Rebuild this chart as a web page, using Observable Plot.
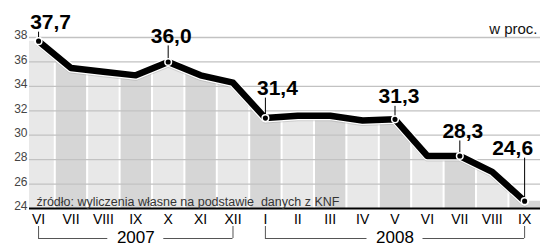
<!DOCTYPE html>
<html><head><meta charset="utf-8">
<script src="https://cdn.jsdelivr.net/npm/d3@7"></script>
<script src="https://cdn.jsdelivr.net/npm/@observablehq/plot@0.6"></script>
<style>
body{margin:0;background:#fff}
#chart{width:543px;height:246px}
svg{overflow:visible}
</style>
</head><body><div id="chart"></div>
<script>
const months = ["VI","VII","VIII","IX","X","XI","XII","I","II","III","IV","V","VI","VII","VIII","IX"];
const values = [37.7,35.5,35.2,34.9,36.0,34.9,34.3,31.4,31.6,31.6,31.2,31.3,28.3,28.3,27.0,24.6];
const labelled = [0,4,7,11,13,15];
const years = ["2007","2008"];
const yearStart = [0,7];
const yearEnd = [6,15];
const yTicks = [24,26,28,30,32,34,36,38];
const unit = "w proc.";
const source = "źródło: wyliczenia własne na podstawie  danych z KNF";

const data = values.map((v,i)=>({i, v, m: months[i]}));
const xMin = -0.28, xMax = 15.49;
const yMin = yTicks[0], yMax = yTicks[yTicks.length-1];
const bands = data.map(d=>({x1: Math.max(d.i-0.5,xMin), x2: Math.min(d.i+0.5,xMax), shade: d.i%2}));
const mask = [{i:xMin, v:values[0]}, ...data, {i:xMax, v:values[values.length-1]}];
const yearData = years.map((y,k)=>({label:y, from:yearStart[k], to:yearEnd[k], mid:(yearStart[k]+yearEnd[k])/2}));

// annotation styling (pixel offsets, not data)
const lift = {0:12, 4:19, 7:23, 11:16, 13:18, 15:46};
const shift = {0:12, 4:3, 7:12, 11:4, 13:3, 15:-12};
const font = "Liberation Sans, Arial, Helvetica, sans-serif";

const marks = [
  Plot.rectY(bands, {x1:"x1", x2:"x2", y1:yMin, y2:yMax, fill: d=>d.shade? "#d6d6d6":"#e8e8e8"}),
  Plot.ruleX(data.slice(0,-1), {x: d=>d.i+0.5, y1:yMin, y2:yMax, stroke:"white", strokeWidth:2}),
  Plot.areaY(mask, {x:"i", y1:"v", y2:()=>yMax+0.5, fill:"white", curve:"linear"}),
  Plot.ruleY(yTicks.filter(t=>t>yMin), {stroke:"#c2c2c2", strokeWidth:1.3}),
  Plot.ruleY([yMin], {stroke:"black", strokeWidth:2}),
  Plot.line(data, {x:"i", y:"v", stroke:"#999", strokeWidth:7, dy:2, strokeOpacity:0.35}),
  Plot.line(data, {x:"i", y:"v", stroke:"white", strokeWidth:9}),
  Plot.line(data, {x:"i", y:"v", stroke:"black", strokeWidth:6.5, strokeLinejoin:"round"}),
  ...labelled.map(k => Plot.ruleX([data[k]], {x:"i", y1:"v", y2:"v", insetTop:-(lift[k]-3), stroke:"black", strokeWidth:1})),
  Plot.dot(labelled.map(k=>data[k]), {x:"i", y:"v", r:3.3, fill:"black", stroke:"white", strokeWidth:1.5}),
  ...labelled.map(k => Plot.text([data[k]], {x:"i", y:"v", text: d=>d.v.toFixed(1).replace(".",","), dy:-lift[k], dx:shift[k], lineAnchor:"bottom", fontSize:21, fontWeight:"bold", fill:"black"})),
  Plot.axisY({ticks: yTicks, tickSize:0, tickPadding:2, fontSize:12, dy:-2, fill:"#444", label:null}),
  Plot.axisX({ticks: d3.range(months.length), tickFormat: i=>months[i], tickSize:0, tickPadding:6, fontSize:14, fill:"black", label:null}),
  Plot.text([unit], {frameAnchor:"top-right", textAnchor:"end", lineAnchor:"bottom", dx:-3, dy:-4, fontSize:15, fill:"#111"}),
  Plot.text([source], {frameAnchor:"bottom-left", textAnchor:"start", lineAnchor:"bottom", dx:7, dy:-3, fontSize:12.5, fill:"#333"}),
  // year brackets
  Plot.ruleY(yearData, {y:()=>yMin, x1:"from", x2:"mid", insetRight:28, dy:30, stroke:"#555", strokeWidth:1}),
  Plot.ruleY(yearData, {y:()=>yMin, x1:"mid", x2:"to", insetLeft:28, dy:30, stroke:"#555", strokeWidth:1}),
  Plot.ruleX(yearData, {x:"from", y1:()=>yMin, y2:()=>yMin, insetTop:18, insetBottom:-30, stroke:"#555", strokeWidth:1}),
  Plot.ruleX(yearData, {x:"to", y1:()=>yMin, y2:()=>yMin, insetTop:18, insetBottom:-30, stroke:"#555", strokeWidth:1}),
  Plot.text(yearData, {x:"mid", y:()=>yMin, text:"label", dy:29, lineAnchor:"middle", fontSize:17, fill:"black"})
];

const chart = Plot.plot({
  width:543, height:246,
  marginLeft:29, marginRight:3, marginTop:37, marginBottom:38,
  x:{type:"linear", domain:[xMin,xMax], label:null},
  y:{domain:[yMin,yMax], label:null},
  style:{fontFamily:font, background:"white", overflow:"visible"},
  marks
});
document.getElementById("chart").appendChild(chart);
</script>
</body></html>
